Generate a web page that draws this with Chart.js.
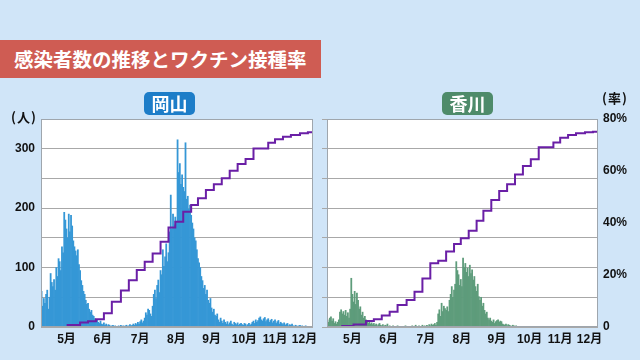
<!DOCTYPE html>
<html lang="ja">
<head>
<meta charset="utf-8">
<title>感染者数の推移とワクチン接種率</title>
<script src="https://cdn.jsdelivr.net/npm/chart.js@4/dist/chart.umd.min.js"></script>
<style>
  body {
    margin: 0;
    width: 640px;
    height: 360px;
    position: relative;
    overflow: hidden;
    background: #d0e5f8;
    font-family: "Noto Sans CJK JP", sans-serif;
    font-weight: bold;
  }
  .box { position: absolute; z-index: 2; color: #fff; }
  #title { left: 0; top: 40px; width: 307px; height: 38px; padding-left: 14px;
           background: #cf5c53; font-size: 19.5px; line-height: 38px; }
  .pref { top: 92px; width: 51px; height: 23px; border-radius: 5px;
          text-align: center; font-size: 18px; line-height: 23px; }
  #okayama { left: 144px; background: #1d7dc8; }
  #kagawa { left: 442px; background: #4e8b6a; }
  .unit { position: absolute; z-index: 2; color: #111; font-size: 13px; line-height: 16px; letter-spacing: 1px; }
  .panel { position: absolute; top: 85px; width: 320px; height: 275px; }
</style>
</head>
<body>
<div class="panel" style="left:0"><canvas id="leftChart" width="320" height="275"></canvas></div>
<div class="panel" style="left:320px"><canvas id="rightChart" width="320" height="275"></canvas></div>

<div id="title" class="box">感染者数の推移とワクチン接種率</div>
<div id="okayama" class="box pref">岡山</div>
<div id="kagawa" class="box pref">香川</div>
<div class="unit" style="left:11px;top:109px">(人)</div>
<div class="unit" style="left:602px;top:90px">(率)</div>

<script>
// days shown on the x axis (one bar per day)
const days = Array.from({ length: 240 }, (_, i) => i);

// month tick labels and the day they sit on
const monthLabels = ['5月', '6月', '7月', '8月', '9月', '10月', '11月', '12月'];
const monthDays = [22, 54, 87, 119, 150, 179, 206, 232];

// daily new cases, Okayama
const okayamaCases = [
  60,35,48,40,55,62,30,50,90,75,68,80,62,100,85,115,110,95,135,125,
  193,180,165,150,190,160,188,170,145,135,128,120,130,105,95,78,70,60,55,45,
  38,40,30,25,28,20,18,14,10,12,8,6,10,5,4,7,3,5,2,4,
  3,1,2,3,1,2,1,0,2,1,3,1,2,0,2,3,1,2,4,2,
  3,5,3,6,4,8,5,9,12,7,10,15,24,20,30,28,22,18,35,55,
  62,48,70,79,58,95,88,130,102,118,140,110,125,160,222,165,190,172,185,178,
  315,260,275,240,256,235,228,310,215,220,198,205,188,175,165,150,145,130,115,108,
  100,85,78,65,70,55,62,45,40,48,32,25,30,20,18,22,12,8,15,10,
  6,12,8,5,9,4,7,10,5,3,8,6,4,7,3,5,6,4,3,6,
  5,2,4,6,3,5,8,10,6,12,8,11,15,17,12,10,14,16,9,12,
  14,8,11,13,7,10,12,6,9,11,5,8,6,4,7,3,5,6,2,4,
  3,5,2,1,3,2,1,2,3,1,2,1,0,2,1,0,1,0,1,0
];

// daily new cases, Kagawa
const kagawaCases = [
  12,8,15,17,10,14,6,9,5,8,12,25,29,22,26,20,28,18,24,15,
  30,82,55,42,60,38,57,45,30,34,20,25,15,18,12,9,6,8,5,7,
  4,6,3,5,2,4,6,3,2,4,1,3,2,5,1,2,0,1,2,0,
  1,0,2,0,1,0,0,1,0,2,0,1,0,0,1,2,0,1,3,0,
  1,2,0,1,3,1,2,0,3,1,4,2,5,3,4,6,3,8,22,29,
  18,40,26,35,31,28,34,26,45,55,68,50,62,72,110,95,88,70,80,68,
  116,100,107,92,99,85,104,90,96,79,85,68,60,72,51,45,50,35,40,28,
  22,25,15,12,15,10,8,12,6,9,11,12,8,10,9,5,4,3,5,2,
  4,3,2,1,3,2,1,2,1,0,1,1,0,1,0,0,1,0,0,1,
  0,0,1,0,0,1,0,0,0,1,0,0,1,0,0,0,1,0,0,0,
  1,0,0,0,1,0,0,0,0,1,0,0,0,1,0,0,0,0,1,0,
  0,0,1,0,0,0,0,1,0,0,0,0,0,1,0,0,0,0,0,0
];

// vaccination rate (%), weekly updates
const vaxDays = [0,13,23,34,41,48,55,62,70,77,84,91,98,105,112,118,125,132,138,145,
                 152,159,166,173,180,187,200,206,213,220,228,235,239];
const okayamaVax = [0,0,0.8,1.7,2.2,3.0,5.3,9.7,14.0,18.0,21.9,25.1,28.3,32.8,38.3,40.5,44.3,46.9,49.5,52.7,
                    54.9,57.2,60.1,62.7,64.6,68.7,70.9,72.2,73.2,73.8,74.5,74.9,74.9];
const kagawaVax = [0,0.4,1.0,2.3,3.0,4.4,5.9,8.5,10.4,13.6,18.7,24.5,25.5,29.0,31.9,34.1,37.0,40.9,44.7,48.8,
                   52.3,54.9,58.7,61.9,64.5,69.1,71.0,72.8,73.8,74.5,74.9,75.1,75.1];

const tickFont = { family: '"Liberation Sans", "Noto Sans CJK JP", sans-serif', size: 12, weight: 'bold' };

// white plot area + grey frame
const plotFrame = {
  id: 'plotFrame',
  beforeDraw(chart) {
    const a = chart.chartArea, ctx = chart.ctx;
    ctx.save();
    ctx.fillStyle = '#fff';
    ctx.fillRect(a.left, a.top, a.right - a.left, a.bottom - a.top);
    ctx.restore();
  },
  afterDraw(chart) {
    const a = chart.chartArea, ctx = chart.ctx;
    ctx.save();
    ctx.strokeStyle = '#9fa6ad';
    ctx.lineWidth = 1;
    ctx.strokeRect(Math.round(a.left) + 0.5, Math.round(a.top) + 0.5,
                   Math.round(a.right - a.left) - 1, Math.round(a.bottom - a.top) - 1);
    ctx.restore();
  }
};

function makeChart(id, cases, vax, barColor, isRight) {
  return new Chart(document.getElementById(id), {
    type: 'bar',
    data: {
      labels: days,
      datasets: [
        {
          type: 'line',
          data: vaxDays.map((d, i) => ({ x: d, y: vax[i] })),
          yAxisID: 'y2',
          stepped: true,
          borderColor: '#6a1fa6',
          borderWidth: 2,
          pointRadius: 0,
          order: 0
        },
        {
          data: cases,
          backgroundColor: barColor,
          barPercentage: 1,
          categoryPercentage: 1,
          order: 1
        }
      ]
    },
    options: {
      responsive: false,
      animation: false,
      layout: { padding: { left: 0, right: isRight ? 0 : 7, top: 34, bottom: 0 } },
      plugins: { legend: { display: false }, tooltip: { enabled: false } },
      scales: {
        x: {
          grid: { display: false, drawTicks: false },
          border: { display: false },
          ticks: {
            autoSkip: false, maxRotation: 0, minRotation: 0, padding: 5,
            color: '#111', font: tickFont,
            callback: (v, i) => {
              const k = monthDays.indexOf(i);
              return k >= 0 ? monthLabels[k] : '';
            }
          },
          afterFit: s => { s.height = 33; }
        },
        y: {
          position: 'left',
          min: 0, max: 350,
          grid: { color: '#a8a8a8', drawTicks: isRight, tickLength: 5 },
          border: { display: false },
          ticks: {
            display: !isRight, stepSize: 50, padding: 6,
            color: '#111', font: tickFont,
            callback: v => v % 100 === 0 ? v : ''
          },
          afterFit: s => { s.width = isRight ? 7 : 41; }
        },
        y2: {
          position: 'right',
          display: isRight,
          min: 0, max: 80,
          grid: { display: false, drawTicks: false },
          border: { display: false },
          ticks: {
            stepSize: 20, padding: 5,
            color: '#111', font: tickFont,
            callback: v => v === 0 ? '0' : v + '%'
          },
          afterFit: s => { s.width = isRight ? 42 : 0; }
        }
      }
    },
    plugins: [plotFrame]
  });
}

makeChart('leftChart', okayamaCases, okayamaVax, '#3597d6', false);
makeChart('rightChart', kagawaCases, kagawaVax, '#5e9c7b', true);
</script>
</body>
</html>
